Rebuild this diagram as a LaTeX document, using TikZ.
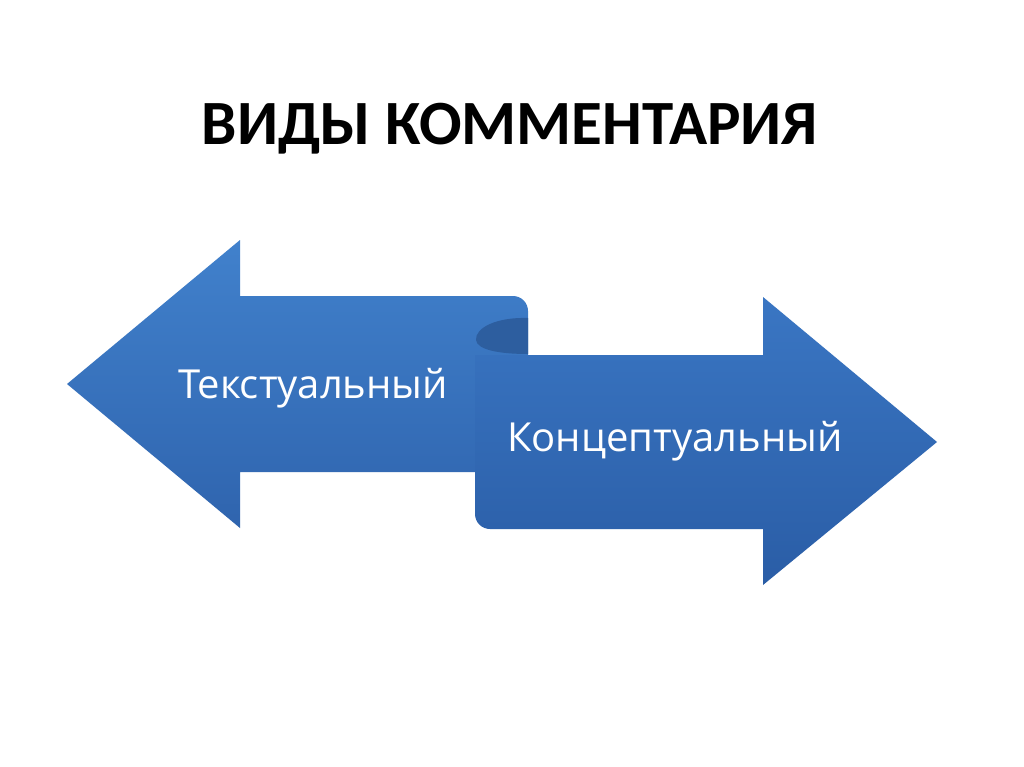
\documentclass[tikz,border=0pt]{standalone}
\usepackage{fontspec}
\setmainfont{Open Sans}
\newfontfamily\titlefont{Carlito}
\newfontfamily\labelfont{Open Sans}
\begin{document}
\begin{tikzpicture}[x=1pt,y=-1pt,
  leftarrow/.style={top color=lblueT,bottom color=lblueB,draw=none},
  rightarrow/.style={top color=rblueT,bottom color=rblueB,draw=none},
  curl/.style={fill=curlblue,draw=none},
  lbl/.style={text=white,anchor=base west,inner sep=0pt,font=\labelfont\fontsize{40}{44}\selectfont},
  ttl/.style={text=black,anchor=base,inner sep=0pt,font=\titlefont\bfseries\fontsize{63}{72}\selectfont}]
\definecolor{lblueT}{HTML}{4181CC}
\definecolor{lblueB}{HTML}{2F64AE}
\definecolor{rblueT}{HTML}{3A76C3}
\definecolor{rblueB}{HTML}{2A5DA6}
\definecolor{curlblue}{HTML}{2D5E9F}
\useasboundingbox (0,0) rectangle (1024,767);
\fill[white] (0,0) rectangle (1024,767);
% left arrow
\path[leftarrow] (67,384) -- (240,240) -- (240,296) -- (513,296)
  arc[start angle=90,end angle=0,x radius=15,y radius=-15] -- (528,472) -- (240,472) -- (240,528) -- cycle;
% curl
\path[curl] (528,318) .. controls (496,317) and (475,328) .. (476,340)
  .. controls (477,350) and (500,354) .. (528,354) -- cycle;
% right arrow
\path[rightarrow] (475,355) -- (763,355) -- (763,297) -- (937,442) -- (763,585) -- (763,529) -- (490,529)
  arc[start angle=270,end angle=180,x radius=15,y radius=-15] -- cycle;
\node[ttl] (title) at (510,145) {ВИДЫ КОММЕНТАРИЯ};
\node[lbl] (t1) at (178,398) {Текстуальный};
\node[lbl] (t2) at (507,451) {Концептуальный};
\end{tikzpicture}
\end{document}
